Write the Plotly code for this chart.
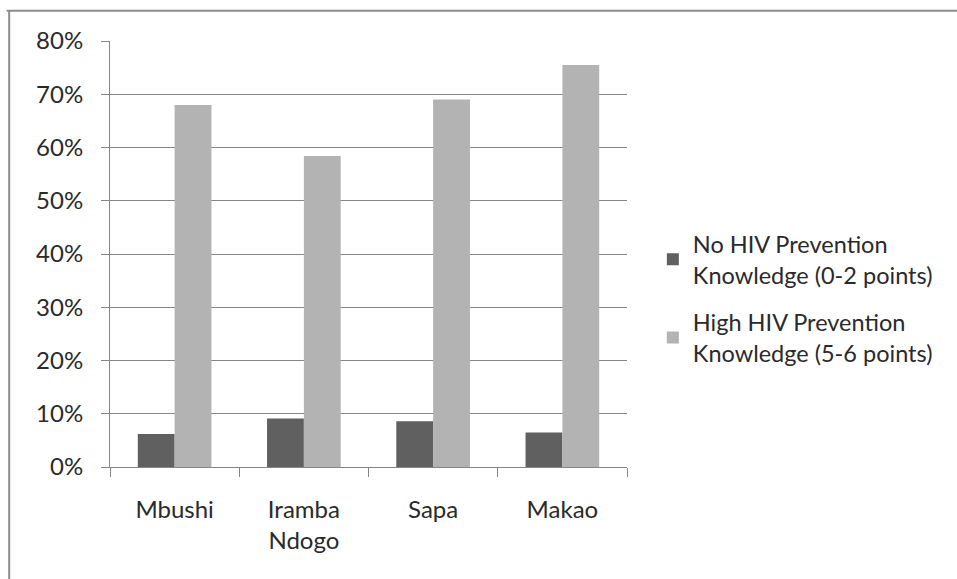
import plotly.graph_objects as go

# Villages surveyed
categories = ["Mbushi", "Iramba<br>Ndogo", "Sapa", "Makao"]

# Share of respondents per knowledge level
no_knowledge = [0.062, 0.091, 0.086, 0.065]
high_knowledge = [0.680, 0.584, 0.690, 0.755]

series_names = [
    "No HIV Prevention<br>Knowledge (0-2 points)",
    "High HIV Prevention<br>Knowledge (5-6 points)",
]

y_ticks = [0, 0.1, 0.2, 0.3, 0.4, 0.5, 0.6, 0.7, 0.8]
y_tick_text = ["0%", "10%", "20%", "30%", "40%", "50%", "60%", "70%", "80%"]

FONT = "Lato, 'Open Sans', sans-serif"
TEXT = "#2a2a2a"
GRID = "#878787"

fig = go.Figure()
fig.add_trace(go.Bar(x=categories, y=no_knowledge, name=series_names[0],
                     marker=dict(color="#606060", line=dict(width=0)),
                     legendgroup="a", hoverinfo="skip"))
fig.add_trace(go.Bar(x=categories, y=high_knowledge, name=series_names[1],
                     marker=dict(color="#b3b3b3", line=dict(width=0)),
                     legendgroup="b", hoverinfo="skip"))

fig.update_layout(
    width=957, height=579,
    margin=dict(l=110, r=330, t=41, b=112),
    paper_bgcolor="white", plot_bgcolor="white",
    barmode="group", bargap=0.43, bargroupgap=0,
    font=dict(family=FONT, size=24, color=TEXT),
    showlegend=True,
    legend=dict(x=1.05, y=0.395, xanchor="left", yanchor="middle",
                font=dict(family=FONT, size=23.5, color=TEXT),
                tracegroupgap=14, bgcolor="rgba(0,0,0,0)"),
    xaxis=dict(showline=True, linecolor=GRID, linewidth=1,
               ticks="outside", ticklen=9, tickcolor=GRID, tickson="boundaries",
               tickfont=dict(size=24), showgrid=False, ticklabelstandoff=21),
    yaxis=dict(range=[0, 0.8], tickvals=y_ticks, ticktext=y_tick_text,
               showline=True, linecolor=GRID, linewidth=1,
               ticks="outside", ticklen=8, tickcolor=GRID,
               showgrid=True, gridcolor=GRID, gridwidth=1,
               zeroline=False, tickfont=dict(size=24), ticklabelstandoff=13),
)

# Chart frame (top and left edges)
fig.add_shape(type="line", xref="paper", yref="paper",
              x0=-0.2, x1=1.7, y0=1.071, y1=1.071,
              line=dict(color="#8c8c8c", width=2))
fig.add_shape(type="line", xref="paper", yref="paper",
              x0=-0.195, x1=-0.195, y0=1.071, y1=-0.3,
              line=dict(color="#8c8c8c", width=2))

fig.write_html("out.html")
